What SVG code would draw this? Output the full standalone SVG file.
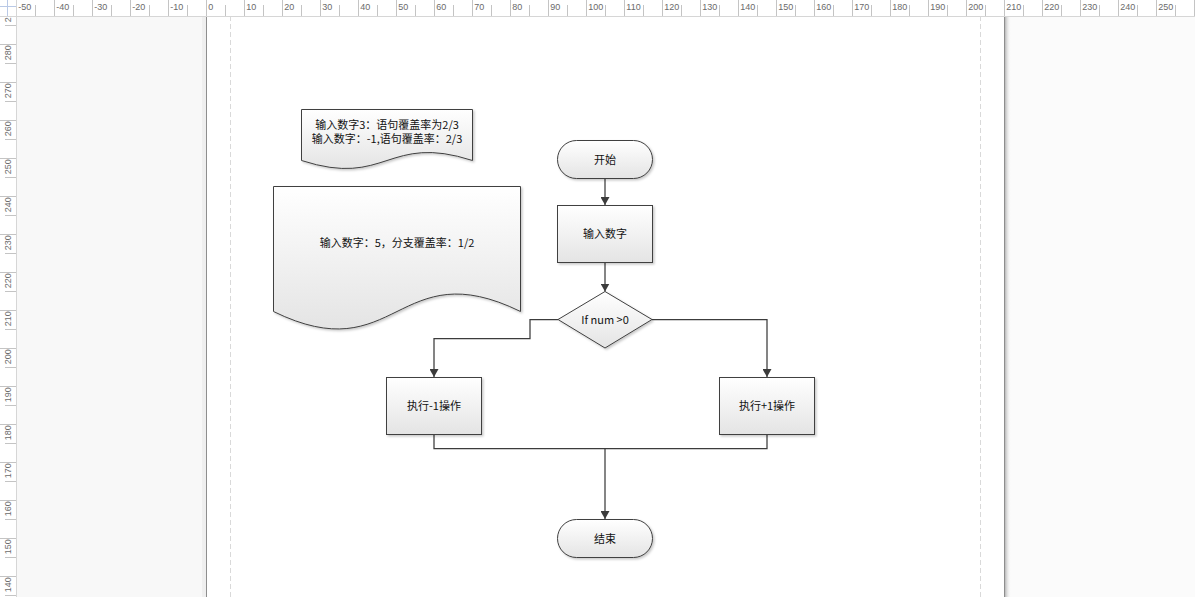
<svg xmlns="http://www.w3.org/2000/svg" width="1195" height="597" viewBox="0 0 1195 597">
<style>
.rl{font-family:"Liberation Sans",Arial,sans-serif;font-size:9px;fill:#6b6b6b}
.shape{stroke:#404040;stroke-width:1;fill:url(#g)}
.t{font-family:"Noto Sans CJK SC","Noto Sans",sans-serif;font-size:11px;fill:#111;text-anchor:middle}
.c{fill:none;stroke:#3c3c3c;stroke-width:1.25}
.a{marker-end:url(#arr)}
</style>
<defs>
<linearGradient id="g" x1="0" y1="0" x2="0" y2="1">
<stop offset="0" stop-color="#ffffff"/>
<stop offset="1" stop-color="#e4e4e4"/>
</linearGradient>
<linearGradient id="sh" x1="0" y1="0" x2="1" y2="0">
<stop offset="0" stop-color="#b8b8b8"/>
<stop offset="1" stop-color="#fafafa" stop-opacity="0"/>
</linearGradient>
<filter id="ds" x="-10%" y="-10%" width="130%" height="130%">
<feDropShadow dx="1.5" dy="1.5" stdDeviation="1" flood-color="#000" flood-opacity="0.22"/>
</filter>
<marker id="arr" viewBox="0 0 8 9" refX="8" refY="4.5" markerWidth="8" markerHeight="9" markerUnits="userSpaceOnUse" orient="auto">
<path d="M0,0L8,4.5L0,9Z" fill="#3c3c3c"/>
</marker>
<pattern id="tt" patternUnits="userSpaceOnUse" x="16" y="0" width="38" height="16">
<path d="M0.5,0V16M19.5,5V16" stroke="#c4c4c4" stroke-width="1"/>
</pattern>
<pattern id="lt" patternUnits="userSpaceOnUse" x="0" y="6" width="16" height="38">
<path d="M0,0.5H16M5,19.5H16" stroke="#c4c4c4" stroke-width="1"/>
</pattern>
</defs>

<!-- canvas background -->
<rect x="0" y="0" width="1195" height="597" fill="#f8f8f8"/>
<rect x="1004" y="16" width="191" height="581" fill="#fbfbfb"/>
<!-- page -->
<rect x="207" y="16" width="797" height="581" fill="#ffffff"/>
<rect x="202" y="16" width="4" height="581" fill="#efefef"/>
<rect x="1005" y="16" width="6" height="581" fill="url(#sh)"/>
<path d="M206.5,16V597M1004.5,16V597" stroke="#8e8e8e" stroke-width="1"/>
<path d="M230.5,16V597M980.5,16V597" stroke="#d9d9d9" stroke-width="1" stroke-dasharray="5,3"/>

<!-- left ruler -->
<g id="left-ruler">
<rect x="0" y="16" width="16" height="581" fill="#ffffff"/>
<rect x="0" y="0" width="16" height="597" fill="url(#lt)"/>
<path d="M16.5,16V597" stroke="#d6d6d6"/>
<g class="rl">
<text transform="translate(10.5,22.3) rotate(-90)">290</text>
<text transform="translate(10.5,60.3) rotate(-90)">280</text>
<text transform="translate(10.5,98.3) rotate(-90)">270</text>
<text transform="translate(10.5,136.3) rotate(-90)">260</text>
<text transform="translate(10.5,174.3) rotate(-90)">250</text>
<text transform="translate(10.5,212.3) rotate(-90)">240</text>
<text transform="translate(10.5,250.3) rotate(-90)">230</text>
<text transform="translate(10.5,288.3) rotate(-90)">220</text>
<text transform="translate(10.5,326.3) rotate(-90)">210</text>
<text transform="translate(10.5,364.3) rotate(-90)">200</text>
<text transform="translate(10.5,402.3) rotate(-90)">190</text>
<text transform="translate(10.5,440.3) rotate(-90)">180</text>
<text transform="translate(10.5,478.3) rotate(-90)">170</text>
<text transform="translate(10.5,516.3) rotate(-90)">160</text>
<text transform="translate(10.5,554.3) rotate(-90)">150</text>
<text transform="translate(10.5,592.3) rotate(-90)">140</text>
</g>
</g>

<!-- top ruler -->
<g id="top-ruler">
<rect x="0" y="0" width="1195" height="16" fill="#ffffff"/>
<rect x="16" y="0" width="1179" height="16" fill="url(#tt)"/>
<path d="M0,16.5H1195" stroke="#d6d6d6"/>
<g class="rl">
<text x="18.3" y="10">-50</text>
<text x="56.3" y="10">-40</text>
<text x="94.3" y="10">-30</text>
<text x="132.3" y="10">-20</text>
<text x="170.3" y="10">-10</text>
<text x="208.3" y="10">0</text>
<text x="246.3" y="10">10</text>
<text x="284.3" y="10">20</text>
<text x="322.3" y="10">30</text>
<text x="360.3" y="10">40</text>
<text x="398.3" y="10">50</text>
<text x="436.3" y="10">60</text>
<text x="474.3" y="10">70</text>
<text x="512.3" y="10">80</text>
<text x="550.3" y="10">90</text>
<text x="588.3" y="10">100</text>
<text x="626.3" y="10">110</text>
<text x="664.3" y="10">120</text>
<text x="702.3" y="10">130</text>
<text x="740.3" y="10">140</text>
<text x="778.3" y="10">150</text>
<text x="816.3" y="10">160</text>
<text x="854.3" y="10">170</text>
<text x="892.3" y="10">180</text>
<text x="930.3" y="10">190</text>
<text x="968.3" y="10">200</text>
<text x="1006.3" y="10">210</text>
<text x="1044.3" y="10">220</text>
<text x="1082.3" y="10">230</text>
<text x="1120.3" y="10">240</text>
<text x="1158.3" y="10">250</text>
</g>
</g>
<!-- corner -->
<g id="ruler-corner">
<rect x="0" y="0" width="16" height="16" fill="#ffffff"/>
<path d="M7.5,0V16M0,6.5H16" stroke="#b9c9e6" stroke-width="1"/>
<path d="M16.5,0V16.5H0" fill="none" stroke="#d6d6d6"/>
</g>

<!-- connectors -->
<g id="connectors">
<path class="c a" d="M605,178.5V205"/>
<path class="c a" d="M605,262.5V291.5"/>
<path class="c a" d="M558,319.5H530V338.5H434V377"/>
<path class="c a" d="M652,319.5H767V377"/>
<path class="c" d="M434,434.5V448.5H767V434.5"/>
<path class="c a" d="M605,448.5V519"/>
</g>

<!-- annotation documents -->
<g id="doc-statement">
<path class="shape" filter="url(#ds)" d="M301.5,109.5H472.5V160.5C387,132.8 387,188.2 301.5,160.5Z"/>
<text class="t" x="387" y="128.5">输入数字3：语句覆盖率为2/3</text>
<text class="t" x="387" y="143">输入数字：-1,语句覆盖率：2/3</text>
</g>
<g id="doc-branch">
<path class="shape" filter="url(#ds)" d="M273.5,186.5H520.5V311.5C397,251 397,372 273.5,311.5Z"/>
<text class="t" x="397" y="246.5">输入数字：5，分支覆盖率：1/2</text>
</g>

<!-- flow nodes -->
<g id="start">
<rect class="shape" filter="url(#ds)" x="557.5" y="140.5" width="95" height="38" rx="19" ry="19"/>
<text class="t" x="605" y="163.5">开始</text>
</g>
<g id="input">
<rect class="shape" filter="url(#ds)" x="557.5" y="205.5" width="95" height="57"/>
<text class="t" x="605" y="238">输入数字</text>
</g>
<g id="decision">
<path class="shape" filter="url(#ds)" d="M605,291.5L652,319.5L605,348L558,319.5Z"/>
<text class="t" x="605" y="323.5">If num &gt;0</text>
</g>
<g id="minus-one">
<rect class="shape" filter="url(#ds)" x="386.5" y="377.5" width="95" height="57"/>
<text class="t" x="434" y="410">执行-1操作</text>
</g>
<g id="plus-one">
<rect class="shape" filter="url(#ds)" x="719.5" y="377.5" width="95" height="57"/>
<text class="t" x="767" y="410">执行+1操作</text>
</g>
<g id="end">
<rect class="shape" filter="url(#ds)" x="557.5" y="519.5" width="95" height="38" rx="19" ry="19"/>
<text class="t" x="605" y="542.5">结束</text>
</g>
</svg>
